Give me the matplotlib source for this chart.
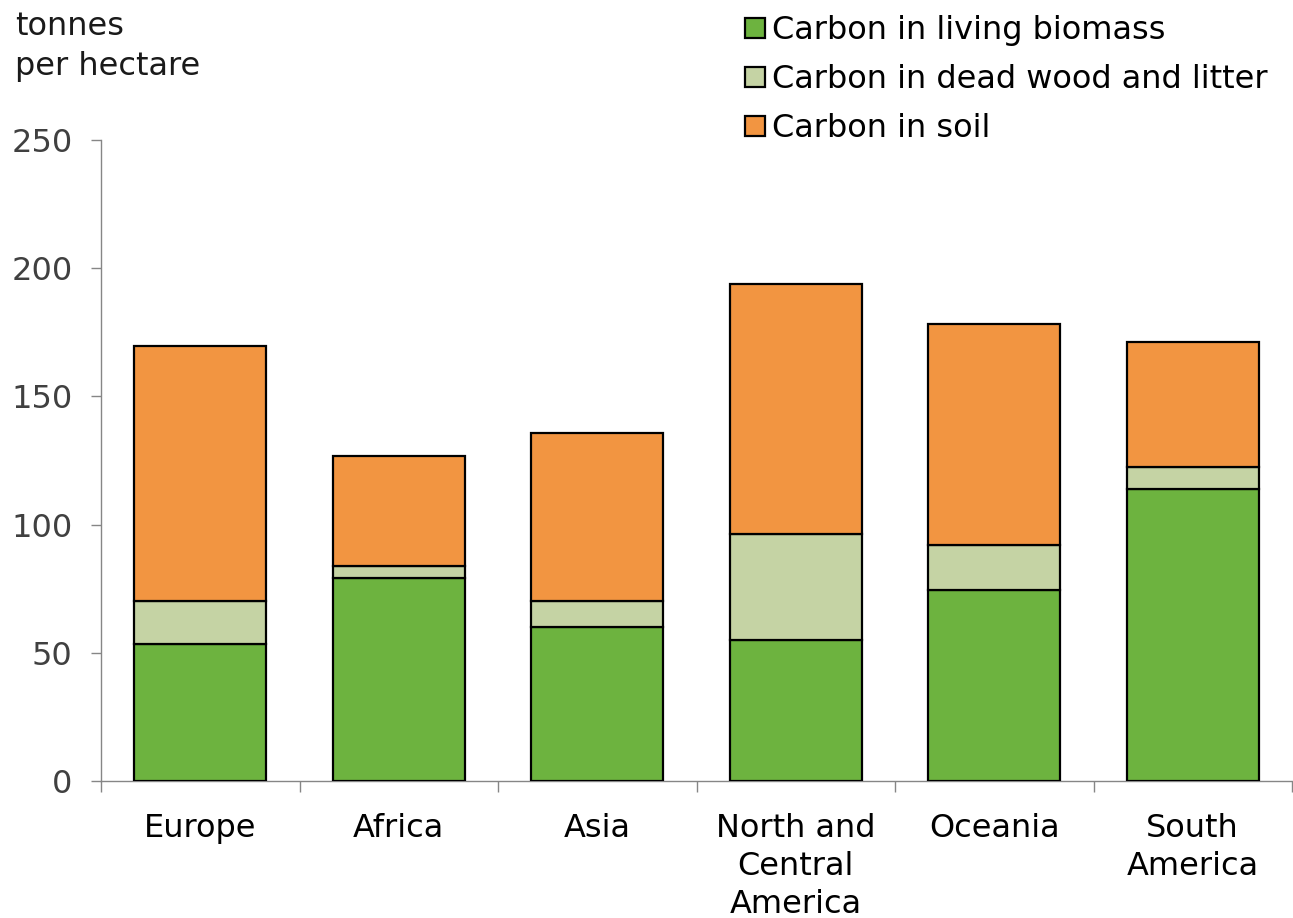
import matplotlib
matplotlib.use("Agg")
import matplotlib.pyplot as plt
from matplotlib.patches import Patch
import numpy as np

regions = ["Europe", "Africa", "Asia", "North and\nCentral\nAmerica", "Oceania", "South\nAmerica"]
living_biomass = [53.5, 79.0, 60.0, 54.8, 74.6, 113.8]
dead_wood_litter = [16.7, 4.7, 10.2, 41.6, 17.4, 8.5]
soil = [99.3, 43.2, 65.6, 97.6, 86.2, 49.1]

series_names = ["Carbon in living biomass", "Carbon in dead wood and litter", "Carbon in soil"]
colors = ["#6db33f", "#c5d3a4", "#f29541"]

plt.rcParams["font.family"] = ["DejaVu Sans"]
FS = 23

fig = plt.figure(figsize=(12.93, 9.18), dpi=100)
ax = fig.add_axes([101 / 1293, 1 - 781 / 918, (1292 - 101) / 1293, (781 - 140) / 918])

x = np.arange(len(regions))
width = 0.665
bottom = np.zeros(len(regions))
for vals, col in zip([living_biomass, dead_wood_litter, soil], colors):
    ax.bar(x, vals, width, bottom=bottom, color=col, edgecolor="black", linewidth=1.6, zorder=3)
    bottom += np.array(vals)

ax.set_xlim(-0.5, len(regions) - 0.5)
ax.set_ylim(0, 250)
ax.set_yticks([0, 50, 100, 150, 200, 250])

spine_color = "#868686"
for s in ["top", "right"]:
    ax.spines[s].set_visible(False)
for s in ["left", "bottom"]:
    ax.spines[s].set_color(spine_color)
    ax.spines[s].set_linewidth(1.0)

ax.tick_params(axis="y", direction="out", length=7.5, width=1.0, color=spine_color,
               pad=13, labelsize=FS, labelcolor="#404040")
ax.set_xticks(x)
ax.set_xticklabels(regions, fontsize=FS, color="black", linespacing=1.29)
ax.tick_params(axis="x", which="major", length=0, pad=23)
ax.set_xticks(np.arange(-0.5, len(regions)), minor=True)
ax.tick_params(axis="x", which="minor", direction="out", length=8, width=1.0, color=spine_color)

fig.text(15 / 1293, 1 - 11 / 918, "tonnes\nper hectare", fontsize=FS, color="#1a1a1a",
         va="top", ha="left", linespacing=1.39)

handles = [Patch(facecolor=c, edgecolor="black", linewidth=1.6) for c in colors]
fig.legend(handles, series_names, loc="upper left", bbox_to_anchor=(723 / 1293, 1 + 7 / 918),
           frameon=False, fontsize=FS, handlelength=0.62, handleheight=0.62,
           handletextpad=0.2, labelspacing=0.56, borderpad=0.2)

fig.savefig("out.png", dpi=100, facecolor="white")
